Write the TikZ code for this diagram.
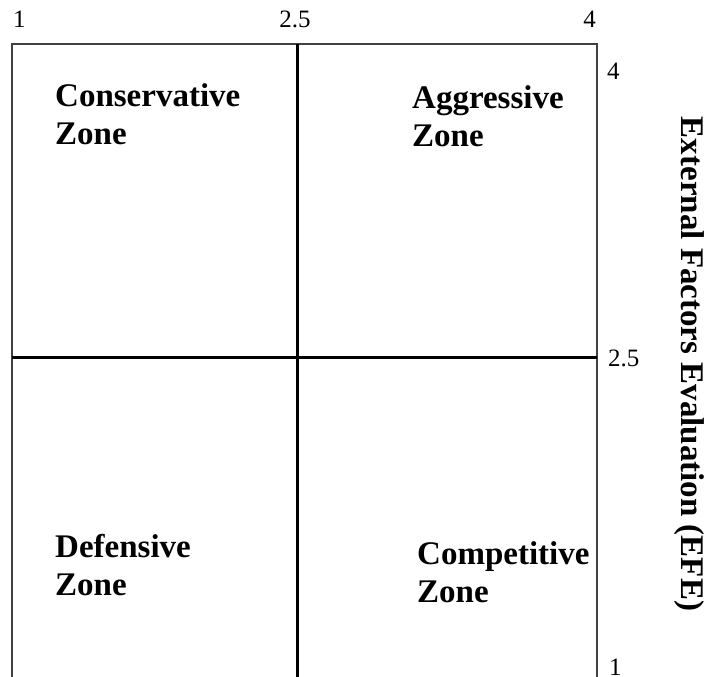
\documentclass[tikz,border=0pt]{standalone}
\usepackage{fontspec}
\setmainfont{Liberation Serif}
\begin{document}
\begin{tikzpicture}[x=1pt,y=-1pt,
  zone/.style={font=\fontsize{33}{38}\selectfont\bfseries, anchor=base west, align=left, inner sep=0pt},
  num/.style={font=\fontsize{25}{28}\selectfont, inner sep=0pt},
  frame/.style={line width=2pt, draw=black!75},
  divider/.style={line width=3pt, draw=black}]
\useasboundingbox (0,0) rectangle (704,677);
\fill[white] (0,0) rectangle (704,677);
% frame
\coordinate (bl) at (12,677);
\coordinate (tl) at (12,44);
\coordinate (tr) at (597,44);
\coordinate (br) at (597,677);
\coordinate (vt) at (297,44);
\coordinate (vb) at (297,677);
\coordinate (hl) at (12,357);
\coordinate (hr) at (597,357);
\draw[frame] (bl) -- (tl) -- (tr) -- (br);
\draw[divider] (vt) -- (vb);
\draw[divider] (hl) -- (hr);
% top scale
\node[num, anchor=base west] (t1) at (13,28) {1};
\node[num, anchor=base] (t25) at (295,28) {2.5};
\node[num, anchor=base east] (t4) at (596,28) {4};
% right scale
\node[num, anchor=base west] (r4) at (607,80) {4};
\node[num, anchor=base west] (r25) at (608,366) {2.5};
\node[num, anchor=base west] (r1) at (609,675) {1};
% zones
\node[zone] (cons) at (55,144) {Conservative\\Zone};
\node[zone] (aggr) at (412,146) {Aggressive\\Zone};
\node[zone] (def) at (55,595) {Defensive\\Zone};
\node[zone] (comp) at (417,602) {Competitive\\Zone};
% axis title
\node[font=\fontsize{33}{38}\selectfont\bfseries, rotate=-90, anchor=base, inner sep=0pt] (efe) at (681,364) {External Factors Evaluation (EFE)};
\end{tikzpicture}
\end{document}
